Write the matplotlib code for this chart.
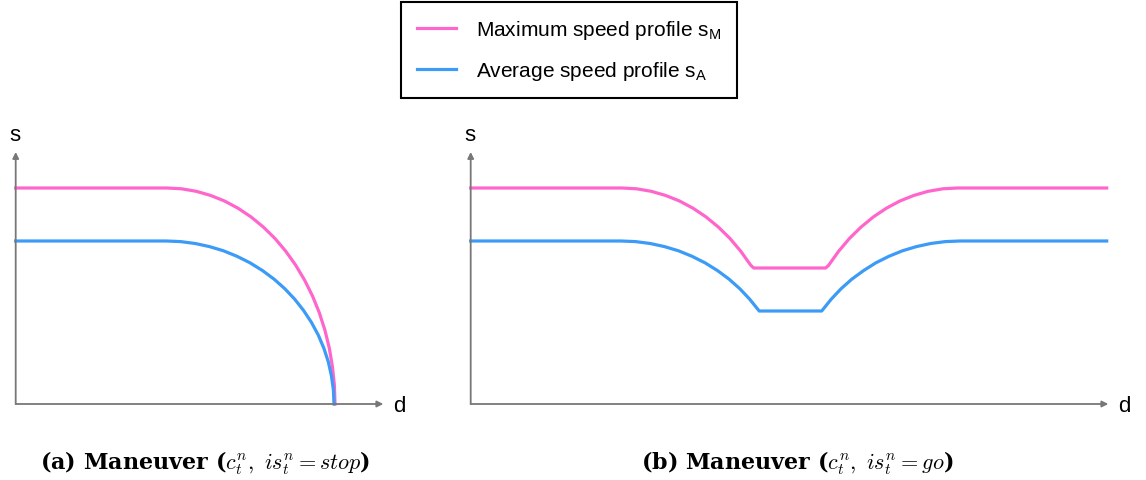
"""
Speed profile sketch: maximum vs average speed profile for a stop and a go maneuver.
"""
import matplotlib.pyplot as plt

# ---- data (d, s), origin at the axes corner ----
# (a) stop maneuver
stop_max_d = [0, 151.3, 165.9, 180.5, 194.8, 208.8, 222.3, 235.3, 247.7, 259.3,
              270.1, 280.0, 288.9, 296.8, 303.6, 309.2, 313.6, 316.7, 318.7, 319.3]
stop_max_s = [216, 216, 215.2, 212.7, 208.6, 203.0, 195.8, 187.1, 176.9, 165.5,
              152.7, 138.8, 123.9, 108.0, 91.3, 73.9, 55.9, 37.5, 18.8, 0]
stop_avg_d = [0, 150.3, 164.9, 179.5, 193.8, 207.8, 221.3, 234.3, 246.7, 258.3,
              269.1, 279.0, 287.9, 295.8, 302.6, 308.2, 312.6, 315.7, 317.7, 318.3]
stop_avg_s = [163, 163, 162.4, 160.5, 157.4, 153.2, 147.7, 141.2, 133.5, 124.9,
              115.3, 104.8, 93.5, 81.5, 68.9, 55.7, 42.2, 28.3, 14.2, 0]

# (b) go maneuver
go_max_d = [0, 151.3, 165.9, 180.5, 194.8, 208.8, 222.3, 235.3, 247.7, 259.3,
            270.1, 280.0, 283.0,
            355.0, 358.0, 367.9, 378.7, 390.3, 402.7, 415.7, 429.2, 443.2,
            457.5, 472.1, 486.7, 636]
go_max_s = [216, 216, 215.2, 212.7, 208.6, 203.0, 195.8, 187.1, 176.9, 165.5,
            152.7, 138.8, 136,
            136, 138.8, 152.7, 165.5, 176.9, 187.1, 195.8, 203.0, 208.6,
            212.7, 215.2, 216, 216]
go_avg_d = [0, 150.3, 164.9, 179.5, 193.8, 207.8, 221.3, 234.3, 246.7, 258.3,
            269.1, 279.0, 288.5,
            351.0, 360.5, 370.4, 381.2, 393.0, 405.2, 418.2, 431.7, 445.7,
            460.0, 474.6, 489.2, 636]
go_avg_s = [163, 163, 162.4, 160.5, 157.4, 153.2, 147.7, 141.2, 133.5, 124.9,
            115.3, 104.8, 93,
            93, 104.8, 115.3, 124.9, 133.5, 141.2, 147.7, 153.2, 157.4,
            160.5, 162.4, 163, 163]

LABEL_MAX = r"Maximum speed profile s$_{\mathregular{M}}$"
LABEL_AVG = r"Average speed profile s$_{\mathregular{A}}$"
CAPTION_A = r"(a) Maneuver ($c_t^n,\ is_t^n = stop$)"
CAPTION_B = r"(b) Maneuver ($c_t^n,\ is_t^n = go$)"

PINK = "#ff66cc"
BLUE = "#3b9bf7"
W, H = 1146, 481


def panel(fig, x0, xlen, ylen=252, y0=405):
    ax = fig.add_axes([x0 / W, (H - y0) / H, xlen / W, ylen / H])
    ax.set_xlim(0, xlen)
    ax.set_ylim(0, ylen)
    ax.axis("off")
    arrow = dict(arrowstyle="-|>", color="#777777", lw=1.3,
                 mutation_scale=9, shrinkA=0, shrinkB=0)
    ax.annotate("", xy=(xlen, 0), xytext=(0, 0), arrowprops=arrow)
    ax.annotate("", xy=(0, ylen), xytext=(0, 0), arrowprops=arrow)
    ax.text(xlen + 16, -2, "d", fontsize=16, family="Liberation Sans",
            ha="center", va="center")
    ax.text(-1, ylen + 17, "s", fontsize=16, family="Liberation Sans",
            ha="center", va="center")
    return ax


fig = plt.figure(figsize=(W / 100, H / 100), dpi=100)

line_kw = dict(lw=2.3, clip_on=False, solid_joinstyle="round")

ax_a = panel(fig, 15.7, 367.6)
ax_a.plot(stop_max_d, stop_max_s, color=PINK, **line_kw)
ax_a.plot(stop_avg_d, stop_avg_s, color=BLUE, **line_kw)

ax_b = panel(fig, 470.7, 637.6)
l1, = ax_b.plot(go_max_d, go_max_s, color=PINK, **line_kw)
l2, = ax_b.plot(go_avg_d, go_avg_s, color=BLUE, **line_kw)

leg = fig.legend([l1, l2], [LABEL_MAX, LABEL_AVG], loc="center",
                 bbox_to_anchor=(569 / W, 1 - 51 / H),
                 prop=dict(family="Liberation Sans", size=15),
                 frameon=True, fancybox=False, framealpha=1,
                 edgecolor="black", handlelength=1.85, handletextpad=0.95,
                 labelspacing=0.88, borderpad=0.78)
leg.get_frame().set_linewidth(1.5)

cap_kw = dict(family="DejaVu Serif", weight="bold", fontsize=16,
              math_fontfamily="cm", ha="center", va="center")
fig.text(205 / W, 1 - 463 / H, CAPTION_A, **cap_kw)
fig.text(797 / W, 1 - 463 / H, CAPTION_B, **cap_kw)

fig.savefig("out.png", dpi=100)
